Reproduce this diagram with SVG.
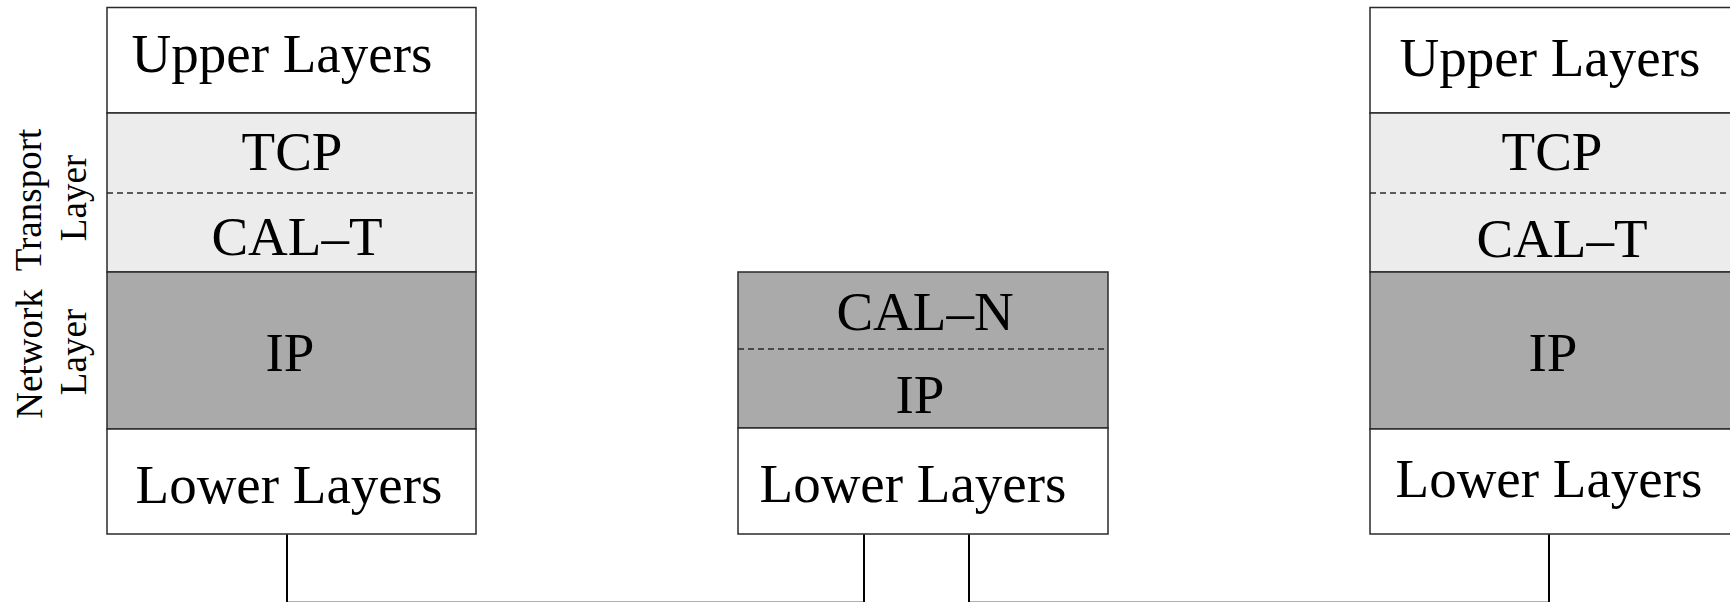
<svg xmlns="http://www.w3.org/2000/svg" width="1730" height="602" viewBox="0 0 1730 602">
<style>
.box{stroke:#2a2a2a;stroke-width:1.5}
.w{fill:#ffffff}
.l{fill:#ececec}
.d{fill:#aaaaaa}
.dash{stroke:#2a2a2a;stroke-width:1.5;stroke-dasharray:6,4;fill:none}
.t{font-family:"Liberation Serif","Times New Roman",serif;font-size:55px;fill:#000;text-anchor:middle}
.s{font-family:"Liberation Serif","Times New Roman",serif;font-size:37px;fill:#000;text-anchor:middle}
.c{stroke:#000;stroke-width:2;fill:none}
.b{stroke:#b0b0b0;stroke-width:1;fill:none}
</style>
<rect x="0" y="0" width="1730" height="602" fill="#ffffff"/>

<g id="left-stack">
  <g id="left-upper"><rect class="box w" x="107" y="7.5" width="369" height="105.5"/><text class="t" x="282" y="72">Upper Layers</text></g>
  <g id="left-transport"><rect class="box l" x="107" y="113" width="369" height="159"/><line class="dash" x1="107" y1="193" x2="476" y2="193"/><text class="t" x="292" y="170">TCP</text><text class="t" x="297" y="255">CAL–T</text></g>
  <g id="left-ip"><rect class="box d" x="107" y="272" width="369" height="157"/><text class="t" x="290" y="371">IP</text></g>
  <g id="left-lower"><rect class="box w" x="107" y="429" width="369" height="105"/><text class="t" x="289" y="503">Lower Layers</text></g>
</g>

<g id="side-labels">
  <text class="s" transform="translate(41,200) rotate(-90)">Transport</text>
  <text class="s" transform="translate(86,198) rotate(-90)">Layer</text>
  <text class="s" transform="translate(42,354) rotate(-90)">Network</text>
  <text class="s" transform="translate(86,352) rotate(-90)">Layer</text>
</g>

<g id="middle-stack">
  <g id="middle-network"><rect class="box d" x="738" y="272" width="370" height="156"/><line class="dash" x1="738" y1="349" x2="1108" y2="349"/><text class="t" x="925" y="330">CAL–N</text><text class="t" x="920" y="413">IP</text></g>
  <g id="middle-lower"><rect class="box w" x="738" y="428" width="370" height="106"/><text class="t" x="913" y="502">Lower Layers</text></g>
</g>

<g id="right-stack">
  <g id="right-upper"><rect class="box w" x="1370" y="7.5" width="370" height="105.5"/><text class="t" x="1550" y="76">Upper Layers</text></g>
  <g id="right-transport"><rect class="box l" x="1370" y="113" width="370" height="159"/><line class="dash" x1="1370" y1="193" x2="1740" y2="193"/><text class="t" x="1552" y="170">TCP</text><text class="t" x="1562" y="257">CAL–T</text></g>
  <g id="right-ip"><rect class="box d" x="1370" y="272" width="370" height="157"/><text class="t" x="1553" y="371">IP</text></g>
  <g id="right-lower"><rect class="box w" x="1370" y="429" width="370" height="105"/><text class="t" x="1549" y="497">Lower Layers</text></g>
</g>

<g id="connectors">
  <line class="b" x1="287" y1="601.5" x2="864" y2="601.5"/>
  <line class="b" x1="969" y1="601.5" x2="1549" y2="601.5"/>
  <line class="c" x1="287" y1="534.5" x2="287" y2="602"/>
  <line class="c" x1="864" y1="534.5" x2="864" y2="602"/>
  <line class="c" x1="969" y1="534.5" x2="969" y2="602"/>
  <line class="c" x1="1549" y1="534.5" x2="1549" y2="602"/>
</g>
</svg>
